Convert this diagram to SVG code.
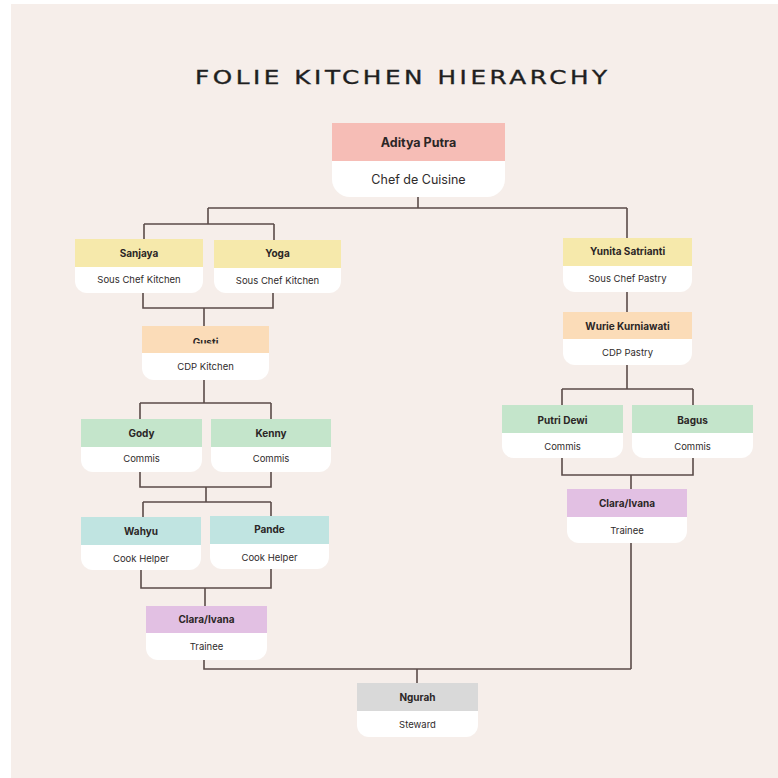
<svg xmlns="http://www.w3.org/2000/svg" width="778" height="778" viewBox="0 0 778 778">
<style>
.bg{fill:#f6eeea}
.body{fill:#ffffff}
.pink{fill:#f6bdb6}
.yellow{fill:#f6e9ab}
.peach{fill:#fbdcb8}
.green{fill:#c4e5cb}
.teal{fill:#c0e4e1}
.purple{fill:#e2c0e3}
.gray{fill:#d9d9d9}
.name{font-family:Inter,"Liberation Sans",sans-serif;font-weight:700;font-size:10px;fill:#2b2626;text-anchor:middle}
.role{font-family:Inter,"Liberation Sans",sans-serif;font-weight:400;font-size:9.5px;fill:#2f2b2b;text-anchor:middle}
.bigname{font-size:12.5px}
.bigrole{font-size:12.5px}
.title{font-family:"DejaVu Sans","Liberation Sans",sans-serif;font-size:19px;fill:#1f1f1f;stroke:#1f1f1f;stroke-width:0.35}
#connectors path{fill:none;stroke:#5b4b49;stroke-width:1.6}
</style>
<defs>
<clipPath id="gustiClip"><rect x="142" y="326" width="127" height="17.5"/></clipPath>
</defs>
<rect x="0" y="0" width="778" height="778" fill="#ffffff"/>
<rect class="bg" x="11" y="4" width="767" height="774"/>
<text class="title" transform="translate(195 84) scale(1.3 1)" x="0" y="0" textLength="317" lengthAdjust="spacing">FOLIE KITCHEN HIERARCHY</text>

<g id="connectors">
<path d="M418 197V208M208 208H627M208 208V224M144 224H274M144 224V239M274 224V240"/>
<path d="M143 293V308H273V293M204 308V326"/>
<path d="M204 380V403M140 403H271M140 403V419M271 403V419"/>
<path d="M140 472V487H271V472M206 487V502M143 502H271M143 502V517M271 502V516"/>
<path d="M141 570V588H271V569M205 588V606"/>
<path d="M204 656V669H631M417 669V683"/>
<path d="M627 208V238M627 292V312M627 365V389M562 389H693M562 389V405M693 389V405"/>
<path d="M562 458V475H693V458M631 475V489M631 543V669"/>
</g>

<g id="aditya">
<path class="body" d="M332 123H505V179A18 18 0 0 1 487 197H350A18 18 0 0 1 332 179Z"/>
<rect class="pink" x="332" y="123" width="173" height="38"/>
<text class="name bigname" x="418.5" y="147">Aditya Putra</text>
<text class="role bigrole" x="418.5" y="184">Chef de Cuisine</text>
</g>

<g id="sanjaya">
<path class="body" d="M75 239H203V281A12 12 0 0 1 191 293H87A12 12 0 0 1 75 281Z"/>
<rect class="yellow" x="75" y="239" width="128" height="28"/>
<text class="name" x="139" y="256.5">Sanjaya</text>
<text class="role" x="139" y="283">Sous Chef Kitchen</text>
</g>

<g id="yoga">
<path class="body" d="M214 240H341V281A12 12 0 0 1 329 293H226A12 12 0 0 1 214 281Z"/>
<rect class="yellow" x="214" y="240" width="127" height="28"/>
<text class="name" x="277.5" y="257">Yoga</text>
<text class="role" x="277.5" y="284">Sous Chef Kitchen</text>
</g>

<g id="gusti">
<path class="body" d="M142 326H269V368A12 12 0 0 1 257 380H154A12 12 0 0 1 142 368Z"/>
<rect class="peach" x="142" y="326" width="127" height="27"/>
<text class="name" x="205.5" y="346" clip-path="url(#gustiClip)">Gusti</text>
<text class="role" x="205.5" y="369.5">CDP Kitchen</text>
</g>

<g id="yunita">
<path class="body" d="M563 238H692V280A12 12 0 0 1 680 292H575A12 12 0 0 1 563 280Z"/>
<rect class="yellow" x="563" y="238" width="129" height="28"/>
<text class="name" x="627.5" y="255">Yunita Satrianti</text>
<text class="role" x="627.5" y="282">Sous Chef Pastry</text>
</g>

<g id="wurie">
<path class="body" d="M563 312H692V353A12 12 0 0 1 680 365H575A12 12 0 0 1 563 353Z"/>
<rect class="peach" x="563" y="312" width="129" height="27"/>
<text class="name" x="627.5" y="329.5">Wurie Kurniawati</text>
<text class="role" x="627.5" y="355.5">CDP Pastry</text>
</g>

<g id="gody">
<path class="body" d="M81 419H202V460A12 12 0 0 1 190 472H93A12 12 0 0 1 81 460Z"/>
<rect class="green" x="81" y="419" width="121" height="28"/>
<text class="name" x="141.5" y="436.5">Gody</text>
<text class="role" x="141.5" y="462">Commis</text>
</g>

<g id="kenny">
<path class="body" d="M211 419H331V460A12 12 0 0 1 319 472H223A12 12 0 0 1 211 460Z"/>
<rect class="green" x="211" y="419" width="120" height="28"/>
<text class="name" x="271" y="436.5">Kenny</text>
<text class="role" x="271" y="462">Commis</text>
</g>

<g id="wahyu">
<path class="body" d="M81 517H201V558A12 12 0 0 1 189 570H93A12 12 0 0 1 81 558Z"/>
<rect class="teal" x="81" y="517" width="120" height="28"/>
<text class="name" x="141" y="534.5">Wahyu</text>
<text class="role" x="141" y="562">Cook Helper</text>
</g>

<g id="pande">
<path class="body" d="M210 516H329V557A12 12 0 0 1 317 569H222A12 12 0 0 1 210 557Z"/>
<rect class="teal" x="210" y="516" width="119" height="28"/>
<text class="name" x="269.5" y="533">Pande</text>
<text class="role" x="269.5" y="560.5">Cook Helper</text>
</g>

<g id="putri">
<path class="body" d="M502 405H623V446A12 12 0 0 1 611 458H514A12 12 0 0 1 502 446Z"/>
<rect class="green" x="502" y="405" width="121" height="28"/>
<text class="name" x="562.5" y="423.5">Putri Dewi</text>
<text class="role" x="562.5" y="449.5">Commis</text>
</g>

<g id="bagus">
<path class="body" d="M632 405H753V446A12 12 0 0 1 741 458H644A12 12 0 0 1 632 446Z"/>
<rect class="green" x="632" y="405" width="121" height="28"/>
<text class="name" x="692.5" y="423.5">Bagus</text>
<text class="role" x="692.5" y="449.5">Commis</text>
</g>

<g id="clara-pastry">
<path class="body" d="M567 489H687V531A12 12 0 0 1 675 543H579A12 12 0 0 1 567 531Z"/>
<rect class="purple" x="567" y="489" width="120" height="28"/>
<text class="name" x="627" y="507">Clara/Ivana</text>
<text class="role" x="627" y="534">Trainee</text>
</g>

<g id="clara-kitchen">
<path class="body" d="M146 606H267V648A12 12 0 0 1 255 660H158A12 12 0 0 1 146 648Z"/>
<rect class="purple" x="146" y="606" width="121" height="27"/>
<text class="name" x="206.5" y="623">Clara/Ivana</text>
<text class="role" x="206.5" y="650">Trainee</text>
</g>

<g id="ngurah">
<path class="body" d="M357 683H478V725A12 12 0 0 1 466 737H369A12 12 0 0 1 357 725Z"/>
<rect class="gray" x="357" y="683" width="121" height="28"/>
<text class="name" x="417.5" y="701">Ngurah</text>
<text class="role" x="417.5" y="728">Steward</text>
</g>
</svg>
